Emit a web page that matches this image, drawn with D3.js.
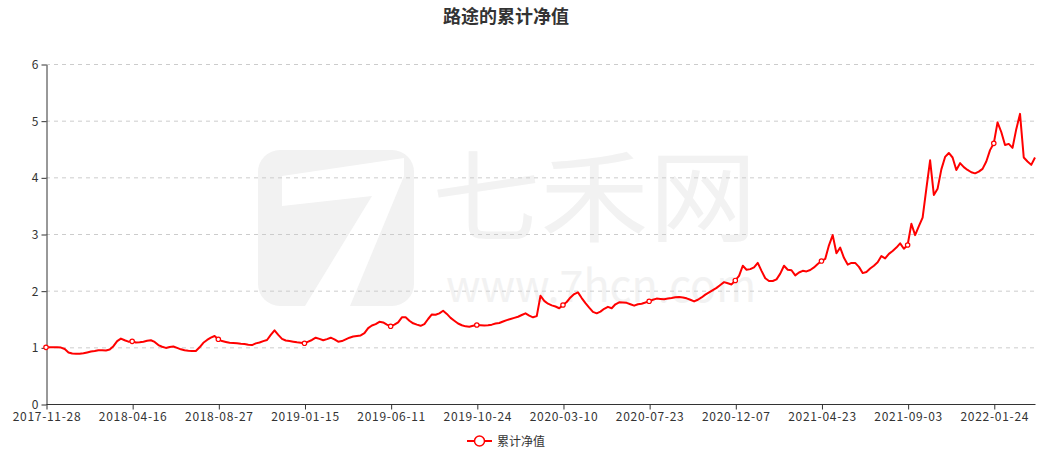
<!DOCTYPE html>
<html>
<head>
<meta charset="utf-8">
<script src="https://cdn.jsdelivr.net/npm/d3@7/dist/d3.min.js"></script>
<style>
  html, body { margin: 0; padding: 0; background: #fff; }
  svg { display: block; }
  text { font-family: "Microsoft YaHei", "Noto Sans CJK SC", "DejaVu Sans", sans-serif; }
</style>
</head>
<body>
<svg id="chart" width="1043" height="453"></svg>
<script>
// ---- data ----
const title = "路途的累计净值";
const seriesName = "累计净值";
const tickLabels = ["2017-11-28","2018-04-16","2018-08-27","2019-01-15","2019-06-11","2019-10-24",
  "2020-03-10","2020-07-23","2020-12-07","2021-04-23","2021-09-03","2022-01-24"];
const samplesPerLabel = 23;
const yTicks = [0, 1, 2, 3, 4, 5, 6];
const values = [
  1.00,1.00,1.00,1.00,0.995,0.97,0.91,0.89,0.885,0.887,
  0.895,0.91,0.925,0.935,0.95,0.95,0.945,0.96,1.02,1.11,
  1.155,1.125,1.10,1.106,1.085,1.09,1.10,1.115,1.125,1.095,
  1.04,1.01,0.99,1.005,1.015,0.99,0.965,0.948,0.94,0.935,
  0.937,1.00,1.08,1.13,1.17,1.20,1.142,1.11,1.095,1.08,
  1.075,1.07,1.062,1.057,1.045,1.04,1.07,1.085,1.11,1.13,
  1.22,1.30,1.22,1.15,1.12,1.11,1.10,1.088,1.08,1.071,
  1.10,1.13,1.17,1.15,1.125,1.145,1.17,1.14,1.10,1.11,
  1.14,1.17,1.19,1.20,1.21,1.25,1.34,1.385,1.41,1.45,
  1.44,1.40,1.371,1.40,1.44,1.53,1.53,1.47,1.424,1.40,
  1.38,1.41,1.50,1.58,1.575,1.60,1.645,1.59,1.52,1.47,
  1.42,1.39,1.37,1.365,1.38,1.394,1.39,1.385,1.39,1.40,
  1.42,1.43,1.455,1.48,1.50,1.52,1.54,1.57,1.60,1.56,
  1.53,1.55,1.91,1.82,1.77,1.74,1.72,1.69,1.747,1.80,
  1.88,1.94,1.97,1.87,1.78,1.70,1.625,1.60,1.63,1.68,
  1.715,1.69,1.76,1.795,1.79,1.785,1.76,1.735,1.76,1.77,
  1.79,1.812,1.84,1.86,1.855,1.85,1.86,1.87,1.885,1.89,
  1.88,1.865,1.84,1.81,1.84,1.88,1.93,1.97,2.01,2.05,
  2.10,2.15,2.13,2.11,2.18,2.26,2.44,2.37,2.38,2.41,
  2.49,2.35,2.22,2.17,2.17,2.20,2.30,2.44,2.37,2.36,
  2.27,2.32,2.35,2.34,2.365,2.41,2.47,2.523,2.56,2.80,
  2.98,2.66,2.76,2.58,2.46,2.49,2.49,2.42,2.31,2.33,
  2.39,2.44,2.50,2.61,2.57,2.65,2.70,2.76,2.835,2.74,
  2.806,3.18,2.98,3.14,3.29,3.80,4.30,3.69,3.80,4.14,
  4.36,4.43,4.35,4.13,4.25,4.18,4.13,4.09,4.07,4.10,
  4.15,4.28,4.48,4.60,4.97,4.80,4.57,4.59,4.52,4.85,
  5.12,4.35,4.28,4.22,4.35
];

// ---- layout ----
const svg = d3.select("#chart");
const plot = { left: 46, right: 1035, top: 64, bottom: 404 };
const lineColor = "#ff0000";
const axisColor = "#333";

const x = d3.scaleLinear().domain([0, values.length - 1]).range([plot.left, plot.right]);
const y = d3.scaleLinear().domain([0, 6]).range([plot.bottom, plot.top]);

// ---- watermark ----
const wm = svg.append("g").attr("class", "watermark");
const wmColor = "#f2f2f2";
wm.append("rect").attr("x", 258).attr("y", 150).attr("width", 156).attr("height", 156)
  .attr("rx", 22).attr("fill", wmColor);
wm.append("path")
  .attr("d", "M282,176 L404,158 L404,176 L350,306 L305,306 L372,196 L282,206 Z")
  .attr("fill", "#fff");
wm.append("text").attr("x", 432).attr("y", 234).attr("font-size", 100)
  .attr("fill", wmColor).attr("textLength", 325).attr("lengthAdjust", "spacingAndGlyphs")
  .text("七禾网");
wm.append("text").attr("x", 446).attr("y", 302).attr("font-size", 44)
  .attr("fill", wmColor).attr("textLength", 310).attr("lengthAdjust", "spacingAndGlyphs")
  .text("www.7hcn.com");

// ---- grid ----
svg.append("g").selectAll("line").data(yTicks.filter(d => d > 0)).join("line")
  .attr("x1", plot.left).attr("x2", plot.right)
  .attr("y1", d => y(d) + 0.5).attr("y2", d => y(d) + 0.5)
  .attr("stroke", "#ccc").attr("stroke-dasharray", "4,4").attr("stroke-width", 1);

// ---- axes ----
const tickIdx = tickLabels.map((_, i) => i * samplesPerLabel);
const xAxis = d3.axisBottom(x).tickValues(tickIdx)
  .tickFormat(d => tickLabels[d / samplesPerLabel]).tickSize(5).tickPadding(3).tickSizeOuter(0);
const gx = svg.append("g").attr("transform", `translate(0.5,${plot.bottom + 0.5})`).call(xAxis);
gx.select(".domain").attr("stroke", axisColor).attr("d", `M${plot.left},0H${plot.right}`);
gx.selectAll(".tick line").attr("stroke", axisColor);
gx.selectAll(".tick text").attr("fill", "#333").attr("font-size", 12)
  .attr("font-family", "'DejaVu Sans', sans-serif").attr("letter-spacing", "0.7px");

const yAxis = d3.axisLeft(y).tickValues(yTicks).tickFormat(d3.format("d"))
  .tickSize(5).tickPadding(3).tickSizeOuter(0);
const gy = svg.append("g").attr("transform", `translate(${plot.left + 0.5},0.5)`).call(yAxis);
gy.select(".domain").attr("stroke", axisColor);
gy.selectAll(".tick line").attr("stroke", axisColor);
gy.selectAll(".tick text").attr("fill", "#333").attr("font-size", 12)
  .attr("font-family", "'DejaVu Sans', sans-serif");

// ---- line ----
const line = d3.line().x((d, i) => x(i)).y(d => y(d));
svg.append("path").datum(values).attr("d", line)
  .attr("fill", "none").attr("stroke", lineColor).attr("stroke-width", 2)
  .attr("stroke-linejoin", "round");

svg.append("g").selectAll("circle").data(tickIdx).join("circle")
  .attr("cx", i => x(i)).attr("cy", i => y(values[i])).attr("r", 2.2)
  .attr("fill", "#fff").attr("stroke", lineColor).attr("stroke-width", 1.2);

// ---- title ----
svg.append("text").attr("x", 506).attr("y", 23).attr("text-anchor", "middle")
  .attr("font-size", 18).attr("font-weight", "bold").attr("fill", "#333").text(title);

// ---- legend ----
const lg = svg.append("g").attr("transform", "translate(467,441)");
lg.append("line").attr("x1", 0).attr("x2", 25).attr("y1", 0).attr("y2", 0)
  .attr("stroke", lineColor).attr("stroke-width", 2);
lg.append("circle").attr("cx", 12.5).attr("cy", 0).attr("r", 5)
  .attr("fill", "#fff").attr("stroke", lineColor).attr("stroke-width", 1.5);
lg.append("text").attr("x", 30).attr("y", 4.5).attr("font-size", 12).attr("fill", "#333").text(seriesName);
</script>
</body>
</html>
